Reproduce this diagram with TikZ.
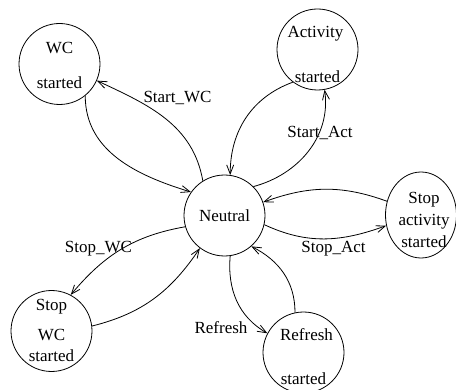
\documentclass[tikz,border=0pt]{standalone}
\usepackage{fontspec}
\setmainfont{Liberation Serif}
\usetikzlibrary{arrows.meta,shapes.geometric}

\begin{document}
\begin{tikzpicture}[x=1pt,y=1pt,
    every node/.style={font=\fontsize{17}{20}\selectfont},
    state/.style={circle,draw,line width=0.8pt,minimum size=81pt,inner sep=0pt},
    every edge/.style={draw,line width=0.8pt,-{Straight Barb[length=9pt,width=7pt]}}]

        \useasboundingbox (0,0) rectangle (456,389);

        \begin{scope}
          \node[state] (n) at (224.5,173.5) {Neutral};
          \node[state, label={[yshift=16pt]center:WC},
                label={[yshift=-19pt]center:started}] (wc) at (59.5,325) {};
          \node[state, label={[yshift=16pt,xshift=-2pt]center:Activity},
                label={[yshift=-27pt]center:started}] (act) at (317.5,339.5) {};
          \node[ellipse,draw,line width=0.8pt,minimum width=71pt,minimum height=86pt,inner sep=0pt,
                label={[yshift=15.5pt,xshift=3pt]center:Stop},
                label={[yshift=-7pt,xshift=3pt]center:activity},
                label={[yshift=-26.5pt,xshift=3pt]center:started}] (stopact) at (421,174) {};
          \node[state, label={[yshift=24pt]center:Stop},
                label={[yshift=-4pt]center:WC},
                label={[yshift=-25pt]center:started}] (stopwc) at (51.5,58) {};
          \node[state, label={[yshift=17.5pt,xshift=3pt]center:Refresh},
                label={[yshift=-26.5pt]center:started}] (refr) at (303.5,36.5) {};
        \end{scope}

        % transition names
        \node (startwc)  at (177.5,291) {Start\_WC};
        \node (startact) at (320,256)   {Start\_Act};
        \node (stopactl) at (333.5,140) {Stop\_Act};
        \node (stopwcl)  at (98.5,140)  {Stop\_WC};
        \node (refrl)    at (221,61)    {Refresh};

        \path (n.122)      edge[out=100,in=-25]  (wc.-24);
        \path (wc.-51)     edge[out=-90,in=163]  (n.145);
        \path (act.-127)   edge[out=200,in=90]   (n.82);
        \path (n.45)       edge[out=15,in=-82]   (act.-80);
        \path (stopact.158) edge[out=160,in=20]  (n.19);
        \path (n.-13)      edge[out=-25,in=200]  (stopact.197);
        \path (n.196)      edge[out=190,in=50]   (stopwc.62);
        \path (stopwc.7)   edge[out=14,in=-124]  (n.233);
        \path (n.-82)      edge[out=-95,in=150]  (refr.152);
        \path (refr.102)   edge[out=90,in=-27]   (n.-49);

      \end{tikzpicture}
\end{document}
